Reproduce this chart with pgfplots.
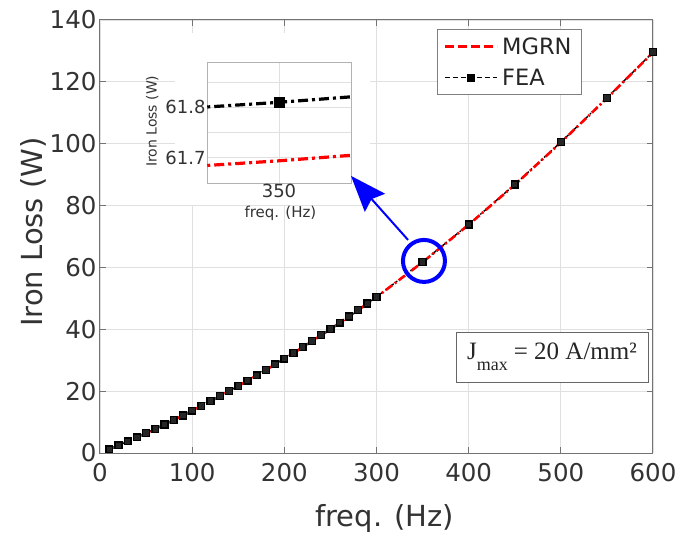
\documentclass[border=0pt]{standalone}
\usepackage{fontspec}
\setmainfont{DejaVu Sans}
\newfontfamily\timesfont{Liberation Serif}
\usepackage{pgfplots}
\usepackage{pgfplotstable}
\pgfplotsset{compat=1.18}
\usetikzlibrary{arrows.meta}

\pgfplotstableread{
f P
10 1.22
20 2.48
30 3.77
40 5.08
50 6.44
60 7.82
70 9.23
80 10.68
90 12.15
100 13.66
110 15.21
120 16.78
130 18.38
140 20.02
150 21.68
160 23.38
170 25.11
180 26.87
190 28.67
200 30.49
210 32.35
220 34.24
230 36.16
240 38.11
250 40.09
260 42.11
270 44.16
280 46.23
290 48.34
300 50.48
350 61.81
400 73.90
450 86.80
500 100.50
550 114.80
600 129.60
}\fea

\pgfplotstableread{
f P
10 1.21
20 2.47
30 3.76
40 5.07
50 6.43
60 7.81
70 9.22
80 10.66
90 12.13
100 13.64
110 15.19
120 16.76
130 18.36
140 20.00
150 21.66
160 23.35
170 25.08
180 26.84
190 28.64
200 30.46
210 32.32
220 34.21
230 36.12
240 38.07
250 40.05
260 42.07
270 44.12
280 46.19
290 48.29
300 50.40
350 61.69
400 73.80
450 86.70
500 100.40
550 114.70
600 129.50
}\mgrn

\begin{document}
\begin{tikzpicture}
\useasboundingbox (-100pt,-83pt) rectangle (581pt,453pt);
\begin{axis}[
  at={(0pt,0pt)}, anchor=south west,
  scale only axis, width=553pt, height=433pt,
  xmin=0, xmax=600, ymin=0, ymax=140,
  xtick={0,100,...,600}, ytick={0,20,...,140},
  grid=major, grid style={black!12, line width=0.8pt},
  axis line style={black!55, line width=1pt},
  tick style={black!55, line width=1pt}, tick align=inside, major tick length=6pt,
  ticklabel style={font=\fontsize{24.5}{24.5}\selectfont, text=black!80},
  xticklabel style={yshift=-7pt},
  /pgf/number format/assume math mode=true,
  xlabel={freq. (Hz)}, ylabel={Iron Loss (W)},
  label style={font=\fontsize{29}{29}\selectfont, text=black!80},
  xlabel style={at={(axis description cs:0.515,-0.152)}, anchor=center},
  ylabel style={at={(axis description cs:-0.121,0.51)}, anchor=center},
  legend style={at={(rel axis cs:0.610,0.979)}, anchor=north west,
    draw=black!50, line width=0.8pt, font=\fontsize{22.5}{22.5}\selectfont,
    text=black!85, inner xsep=6pt, inner ysep=6pt, row sep=9pt,
    nodes={inner xsep=3.5pt, inner ysep=2pt},
    legend cell align=left},
  legend image code/.code={\draw[mark repeat=2,mark phase=2,#1] plot coordinates {(0pt,0pt) (26pt,0pt) (52pt,0pt)};},
]
\addlegendimage{red, line width=3pt, dash pattern=on 9pt off 4pt}
\addlegendentry{MGRN}
\addlegendimage{black, line width=1.5pt, dash pattern=on 5pt off 3pt, mark=square*, mark size=3.2pt, mark options={solid, fill=black}}
\addlegendentry{FEA}

\addplot[forget plot, black, line width=1.4pt, dash pattern=on 6pt off 3pt on 1.5pt off 3pt,
  mark=square*, mark size=3.4pt, mark options={solid, fill=black!85, draw=black}] table[x=f,y=P] {\fea};
\addplot[forget plot, red, line width=2.6pt, dash pattern=on 8pt off 3pt on 2pt off 3pt] table[x=f,y=P] {\mgrn};

\fill[white] (75pt,248pt) rectangle (270pt,420pt);
\coordinate (cc) at (axis cs:351.5,62.1);
\coordinate (atail) at (axis cs:334.2,68.9);
\coordinate (ahead) at (axis cs:272.3,89.6);
\end{axis}

\begin{axis}[
  at={(107pt,270pt)}, anchor=south west,
  scale only axis, width=144pt, height=121pt,
  xmin=349.958, xmax=350.042, ymin=61.65, ymax=61.89,
  scaled ticks=false,
  xtick={350}, xticklabels={350},
  ytick={61.7,61.8}, yticklabels={61.7,61.8},
  minor ytick={61.75,61.85},
  grid=both, grid style={black!12, line width=0.7pt},
  axis line style={black!30, line width=0.8pt},
  tick style={draw=none},
  ticklabel style={font=\fontsize{18}{18}\selectfont, text=black!80},
  xticklabel style={yshift=2pt},
  yticklabel style={xshift=2pt},
  xlabel={freq. (Hz)}, ylabel={Iron Loss (W)},
  xlabel style={font=\fontsize{15}{15}\selectfont, text=black!80, at={(axis description cs:0.51,-0.25)}, anchor=center},
  ylabel style={font=\fontsize{14}{14}\selectfont, text=black!80, at={(axis description cs:-0.38,0.51)}, anchor=center},
]
\addplot[black, line width=3.2pt, dash pattern=on 10pt off 4pt on 3pt off 4pt] coordinates {(349.95,61.799) (350,61.81) (350.05,61.823)};
\addplot[black, only marks, mark=square*, mark size=5pt] coordinates {(350,61.81)};
\addplot[red, line width=3.2pt, dash pattern=on 10pt off 4pt on 3pt off 4pt] coordinates {(349.95,61.683) (350,61.694) (350.05,61.707)};
\end{axis}

\draw[blue, line width=4pt] (cc) circle[radius=21pt];
\draw[blue, line width=2pt, -{Stealth[length=36pt,width=27pt,inset=5pt]}] (atail) -- (ahead);

\node[draw=black!60, line width=0.8pt, fill=white, minimum width=192pt, minimum height=50pt, inner sep=0pt, font=\timesfont\fontsize{25}{25}\selectfont, text=black!85] at (452pt,96pt)
  {J\raisebox{-0.45em}{\fontsize{18}{18}\selectfont max}\hspace{6pt}= 20 A/mm²};
\end{tikzpicture}
\end{document}
